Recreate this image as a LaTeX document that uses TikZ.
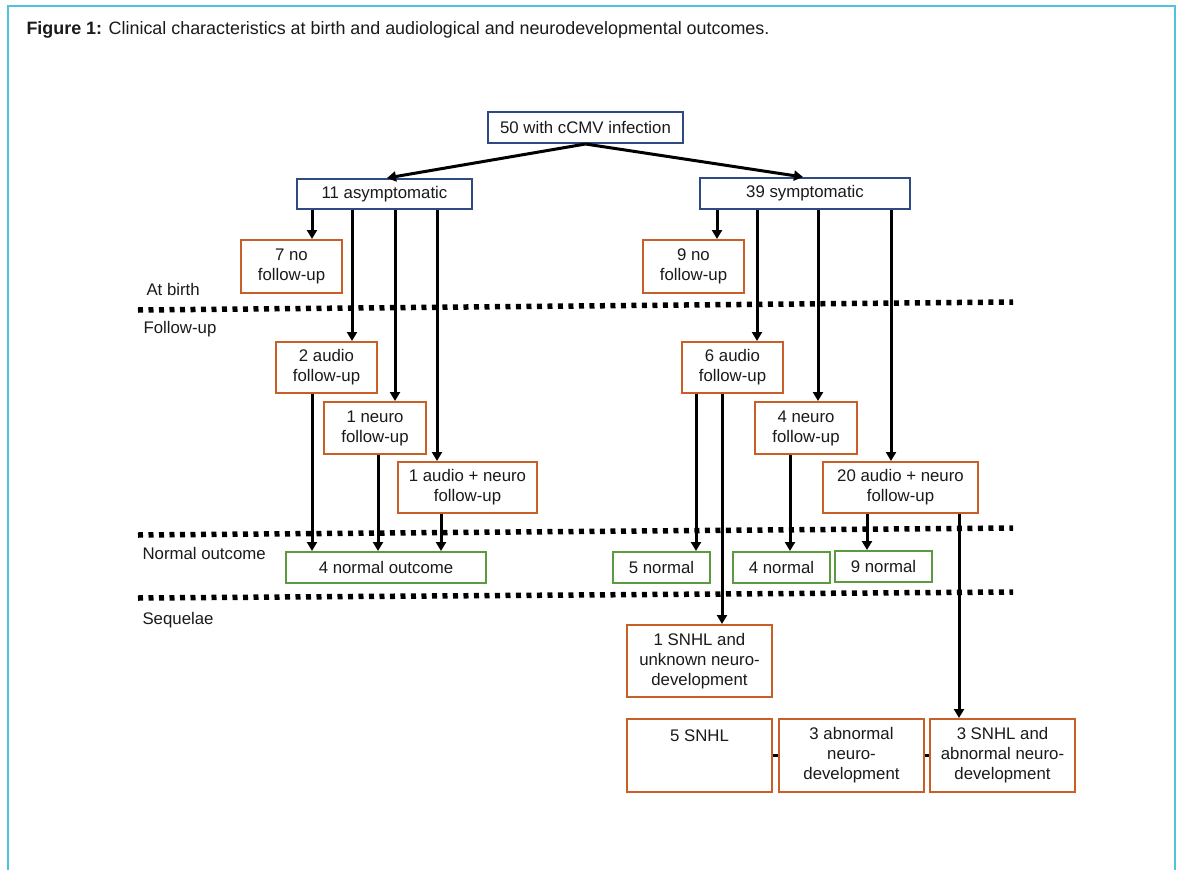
\documentclass[tikz,border=0pt]{standalone}
\usepackage{fontspec}
\setmainfont{Liberation Sans}
\usepackage{xcolor}
\usepackage{tikz}
\usetikzlibrary{arrows.meta}

\definecolor{framecyan}{HTML}{4FC3DB}
\definecolor{boxblue}{HTML}{2F4A80}
\definecolor{boxorange}{HTML}{C75F26}
\definecolor{boxgreen}{HTML}{5B9A3E}
\definecolor{inktext}{HTML}{1A1A1A}

\tikzset{
  every node/.style={font=\fontsize{16.8}{20}\selectfont, text=inktext},
  box/.style={draw, line width=2pt, fill=white, inner sep=0pt, align=center},
  bluebox/.style={box, draw=boxblue},
  orangebox/.style={box, draw=boxorange},
  greenbox/.style={box, draw=boxgreen},
  phase/.style={anchor=west},
  arrow/.style={line width=3pt, -{Triangle[length=9pt,width=10pt]}},
  dotline/.style={line width=5.5pt, dash pattern=on 5pt off 5.5pt},
}

\begin{document}
\begin{tikzpicture}[x=1pt, y=-1pt]
  \useasboundingbox (0,0) rectangle (1178,870);
  \draw[framecyan, line width=1.5pt] (8,870) -- (8,6) -- (1175,6) -- (1175,870);

  \node[anchor=west, font=\fontsize{17.9}{21}\selectfont] (title) at (23,30)
    {\textbf{Figure 1:} Clinical characteristics at birth and audiological and neurodevelopmental outcomes.};

  % phase separators
  \draw[dotline] (138,310) -- (1013,302);
  \draw[dotline] (138,535) -- (1013,528);
  \draw[dotline] (138,598) -- (1013,592);

  \node[phase] (birth) at (143,289) {At birth};
  \node[phase] (follow) at (140,329) {Follow-up};
  \node[phase] (normal) at (139,553) {Normal outcome};
  \node[phase] (sequel) at (139,620) {Sequelae};

  % top
  \node[bluebox, minimum width=195, minimum height=31] (all) at (585.5,127.5) {50 with cCMV infection};
  \node[bluebox, minimum width=175, minimum height=30] (asym) at (384.5,194) {11 asymptomatic};
  \node[bluebox, minimum width=210, minimum height=31] (symp) at (805,193.5) {39 symptomatic};

  % at birth
  \node[orangebox, minimum width=101, minimum height=53] (noA) at (291.5,266.5) {7 no\\follow-up};
  \node[orangebox, minimum width=101, minimum height=53] (noS) at (693.5,266.5) {9 no\\follow-up};

  % follow-up
  \node[orangebox, minimum width=101, minimum height=51] (audA) at (326.5,367.5) {2 audio\\follow-up};
  \node[orangebox, minimum width=102, minimum height=52] (neuA) at (375,428) {1 neuro\\follow-up};
  \node[orangebox, minimum width=139, minimum height=51] (bothA) at (467.5,487.5) {1 audio + neuro\\follow-up};
  \node[orangebox, minimum width=101, minimum height=51] (audS) at (732.5,367.5) {6 audio\\follow-up};
  \node[orangebox, minimum width=102, minimum height=52] (neuS) at (806,428) {4 neuro\\follow-up};
  \node[orangebox, minimum width=155, minimum height=51] (bothS) at (900.5,487.5) {20 audio + neuro\\follow-up};

  % normal outcome
  \node[greenbox, minimum width=200, minimum height=31] (normA) at (386,567.5) {4 normal outcome};
  \node[greenbox, minimum width=97, minimum height=31] (normS1) at (661.5,567.5) {5 normal};
  \node[greenbox, minimum width=97, minimum height=31] (normS2) at (781.5,567.5) {4 normal};
  \node[greenbox, minimum width=97, minimum height=31] (normS3) at (883.5,566.5) {9 normal};

  % sequelae
  \node[orangebox, minimum width=145, minimum height=72] (unk) at (699.5,661) {1 SNHL and\\unknown neuro-\\development};
  \node[orangebox, minimum width=145, minimum height=73] (snhl) at (699.5,755.5) {5 SNHL\\\phantom{x}\\\phantom{x}};
  \node[orangebox, minimum width=145, minimum height=73] (abn) at (851.5,755.5) {3 abnormal\\neuro-\\development};
  \node[orangebox, minimum width=145, minimum height=73] (snab) at (1002.5,755.5) {3 SNHL and\\abnormal neuro-\\development};

  \draw[line width=3pt] (snhl.east) -- (abn.west);
  \draw[line width=3pt] (abn.east) -- (snab.west);

  % connectors
  \draw[arrow] (all.south) -- (asym.north -| 387,0);
  \draw[arrow] (all.south) -- (symp.north -| 803,0);
  \foreach \from/\to/\x in {asym/noA/312, asym/audA/352, asym/neuA/395, asym/bothA/437,
      symp/noS/717, symp/audS/757, symp/neuS/818, symp/bothS/891,
      audA/normA/312, neuA/normA/378, bothA/normA/441,
      audS/normS1/696, audS/unk/722, neuS/normS2/790,
      bothS/normS3/867, bothS/snab/959}
    \draw[arrow] (\from.south -| \x,0) -- (\to.north -| \x,0);
\end{tikzpicture}
\end{document}
